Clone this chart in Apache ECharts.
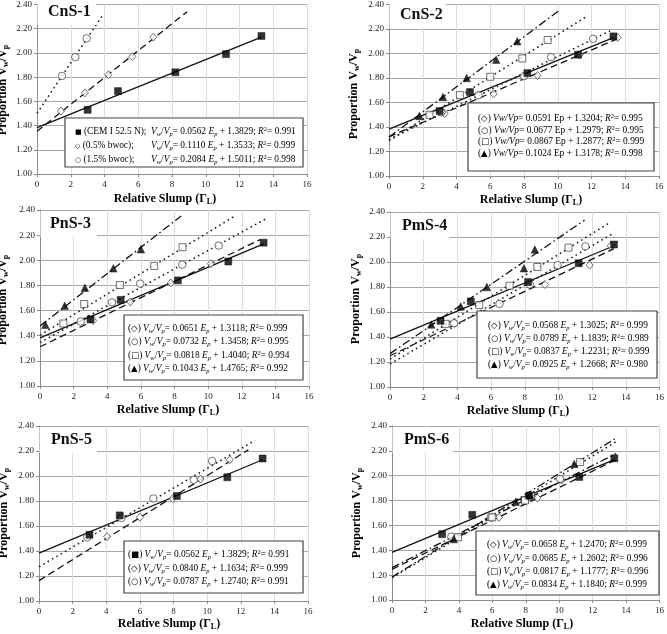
<!DOCTYPE html>
<html><head><meta charset="utf-8">
<script src="https://cdn.jsdelivr.net/npm/echarts@6/dist/echarts.min.js"></script>
<style>html,body{margin:0;padding:0;background:#fff}#c{width:667px;height:634px}</style>
</head><body><div id="c"></div>
<script>
// ---------------- DATA ----------------
const panelTitles = ['CnS-1', 'CnS-2', 'PnS-3', 'PmS-4', 'PnS-5', 'PmS-6'];

// Reference mix (CEM I 52.5 N), shown on every panel
const cemPts = [[3.0, 1.53], [4.8, 1.685], [8.2, 1.84], [11.2, 1.99], [13.3, 2.14]];
const cemFit = [[0, 1.383], [13.3, 2.130]];

// CnS-1
const cns1Diam = [[1.42, 1.52], [2.84, 1.67], [4.23, 1.82], [5.65, 1.97], [6.89, 2.13]];
const cns1Circ = [[1.48, 1.81], [2.27, 1.965], [2.94, 2.12]];
const cns1DiamFit = [[0, 1.353], [8.9, 2.341]];
const cns1CircFit = [[0, 1.501], [3.9, 2.314]];

// CnS-2
const cns2Diam = [[3.3, 1.51], [6.2, 1.67], [8.8, 1.82], [11.3, 1.99], [13.55, 2.13]];
const cns2Circ = [[3.1, 1.52], [5.3, 1.66], [8.0, 1.815], [9.6, 1.97], [12.1, 2.12]];
const cns2Sq = [[2.4, 1.50], [4.2, 1.66], [6.0, 1.81], [7.9, 1.96], [9.4, 2.11]];
const cns2Tri = [[1.8, 1.49], [3.2, 1.645], [4.6, 1.80], [6.35, 1.95], [7.6, 2.10]];
const cns2DiamFit = [[0, 1.320], [13.6, 2.124]];
const cns2CircFit = [[0, 1.298], [13.1, 2.185]];
const cns2SqFit = [[0, 1.288], [11.75, 2.306]];
const cns2TriFit = [[0, 1.318], [10.05, 2.347]];

// PnS-3
const pns3Diam = [[3.17, 1.52], [5.37, 1.668], [7.78, 1.82], [10.16, 1.973]];
const pns3Circ = [[2.42, 1.513], [4.28, 1.665], [5.96, 1.814], [8.46, 1.965], [10.63, 2.117]];
const pns3Sq = [[1.39, 1.497], [2.63, 1.652], [4.75, 1.803], [6.79, 1.955], [8.48, 2.104]];
const pns3Tri = [[0.32, 1.487], [1.47, 1.638], [2.67, 1.782], [4.36, 1.936], [6.0, 2.088]];
const pns3DiamFit = [[0, 1.312], [13.1, 2.165]];
const pns3CircFit = [[0, 1.346], [13.4, 2.327]];
const pns3SqFit = [[0, 1.404], [11.5, 2.345]];
const pns3TriFit = [[0, 1.477], [8.4, 2.353]];

// PmS-4
const pms4Diam = [[3.85, 1.51], [9.2, 1.82], [11.85, 1.975], [13.1, 2.13]];
const pms4Circ = [[3.8, 1.51], [6.5, 1.665], [8.3, 1.82], [9.95, 1.975], [11.6, 2.125]];
const pms4Sq = [[3.3, 1.505], [5.3, 1.655], [7.1, 1.81], [8.75, 1.96], [10.6, 2.115]];
const pms4Tri = [[2.45, 1.50], [4.2, 1.645], [5.75, 1.80], [7.95, 1.95], [8.6, 2.10]];
const pms4DiamFit = [[0, 1.25], [13.3, 2.107]];
const pms4CircFit = [[0, 1.184], [13.3, 2.233]];
const pms4SqFit = [[0, 1.223], [13.0, 2.311]];
const pms4TriFit = [[0, 1.267], [11.55, 2.335]];

// PnS-5
const pns5Diam = [[4.05, 1.515], [6.0, 1.67], [7.95, 1.82], [9.6, 1.975], [11.35, 2.13]];
const pns5Circ = [[2.87, 1.51], [4.9, 1.665], [6.8, 1.82], [9.2, 1.97], [10.3, 2.12]];
const pns5DiamFit = [[0, 1.163], [12.45, 2.209]];
const pns5CircFit = [[0, 1.274], [12.85, 2.285]];

// PmS-6
const pms6Diam = [[3.8, 1.50], [6.4, 1.665], [8.7, 1.82], [10.15, 1.965]];
const pms6Circ = [[3.55, 1.51], [5.9, 1.665], [7.95, 1.805], [10.05, 1.975]];
const pms6Sq = [[3.95, 1.505], [6.0, 1.665], [7.95, 1.80], [8.3, 1.835], [11.25, 2.11]];
const pms6Tri = [[3.7, 1.49], [7.4, 1.79], [8.25, 1.845], [10.9, 2.095]];
const pms6DiamFit = [[0, 1.247], [13.4, 2.129]];
const pms6CircFit = [[0, 1.260], [13.4, 2.178]];
const pms6SqFit = [[0, 1.178], [13.4, 2.273]];
const pms6TriFit = [[0, 1.184], [13.4, 2.302]];

// ---------------- STYLE / LAYOUT ----------------
const F = "'Liberation Serif', 'Times New Roman', serif";
const G = "'DejaVu Sans', sans-serif";

const layout = [
  {l: 37, t: -1, w: 270, h: 175, tx: 48, ty: 12, tr: 96, xt: [165, 199], yt: [3, 90], lb: [65, 118, 238, 49]},
  {l: 389, t: 1, w: 270, h: 175, tx: 400, ty: 15, tr: 446, xt: [531, 200], yt: [354, 94], lb: [468, 103, 186, 68]},
  {l: 40, t: 210, w: 269, h: 176, tx: 50, ty: 224, tr: 97, xt: [168, 410], yt: [3, 300], lb: [124, 315, 179, 65]},
  {l: 390, t: 212, w: 270, h: 175, tx: 402, ty: 226, tr: 449, xt: [518, 411], yt: [356, 299], lb: [477, 311, 180, 67]},
  {l: 39, t: 426, w: 269, h: 175, tx: 51, ty: 440, tr: 97, xt: [169, 624], yt: [4, 513], lb: [124, 541, 179, 52]},
  {l: 392, t: 426, w: 269, h: 174, tx: 404, ty: 440, tr: 453, xt: [522, 624], yt: [357, 513], lb: [476, 531, 183, 64]}
];

const markers = {
  sq:  {symbol: 'rect', symbolSize: 7, itemStyle: {color: '#000', borderColor: '#000', borderWidth: 0.5}},
  di:  {symbol: 'diamond', symbolSize: [7, 8], itemStyle: {color: '#fff', borderColor: '#222', borderWidth: 0.8}},
  ci:  {symbol: 'circle', symbolSize: 7.5, itemStyle: {color: '#fff', borderColor: '#222', borderWidth: 0.8}},
  osq: {symbol: 'rect', symbolSize: 7, itemStyle: {color: '#fff', borderColor: '#222', borderWidth: 0.8}},
  tri: {symbol: 'triangle', symbolSize: 7.5, itemStyle: {color: '#000', borderColor: '#000', borderWidth: 0.5}}
};
const lineStyles = {
  solid:   {type: 'solid', width: 1.3, color: '#111'},
  dash:    {type: [7, 4], width: 1.3, color: '#111'},
  dot:     {type: [1.6, 3.4], width: 1.6, color: '#222'},
  dashdot: {type: [8, 3, 1.6, 3], width: 1.3, color: '#111'}
};

const panels = [
  {pts: [[cns1Diam, 'di'], [cns1Circ, 'ci'], [cemPts, 'sq']],
   fits: [[cemFit, 'solid'], [cns1DiamFit, 'dash'], [cns1CircFit, 'dot']]},
  {pts: [[cns2Diam, 'di'], [cns2Circ, 'ci'], [cns2Sq, 'osq'], [cns2Tri, 'tri'], [cemPts, 'sq']],
   fits: [[cemFit, 'solid'], [cns2DiamFit, 'dash'], [cns2CircFit, 'dot'], [cns2SqFit, 'dot'], [cns2TriFit, 'dashdot']]},
  {pts: [[pns3Diam, 'di'], [pns3Circ, 'ci'], [pns3Sq, 'osq'], [pns3Tri, 'tri'], [cemPts, 'sq']],
   fits: [[cemFit, 'solid'], [pns3DiamFit, 'dash'], [pns3CircFit, 'dot'], [pns3SqFit, 'dot'], [pns3TriFit, 'dashdot']]},
  {pts: [[pms4Diam, 'di'], [pms4Circ, 'ci'], [pms4Sq, 'osq'], [pms4Tri, 'tri'], [cemPts, 'sq']],
   fits: [[cemFit, 'solid'], [pms4DiamFit, 'dash'], [pms4CircFit, 'dot'], [pms4SqFit, 'dot'], [pms4TriFit, 'dashdot']]},
  {pts: [[pns5Diam, 'di'], [pns5Circ, 'ci'], [cemPts, 'sq']],
   fits: [[cemFit, 'solid'], [pns5DiamFit, 'dash'], [pns5CircFit, 'dot']]},
  {pts: [[pms6Diam, 'di'], [pms6Circ, 'ci'], [pms6Sq, 'osq'], [pms6Tri, 'tri'], [cemPts, 'sq']],
   fits: [[cemFit, 'solid'], [pms6DiamFit, 'dash'], [pms6CircFit, 'dashdot'], [pms6SqFit, 'dot'], [pms6TriFit, 'dashdot']]}
];

// legend texts
const eqA = (a, b, r) => `{i|V}{sub|w}{n|/}{i|V}{sub|p}{n|= ${a} }{i|E}{sub|p}{n| + ${b}; }{i|R}{sup|2}{n|= ${r}}`;
const eqB = (a, b, r) => `{i|Vw/Vp}{n|= ${a} Ep + ${b}; }{i|R}{sup|2}{n|= ${r}}`;
const par = s => `{n|(}{s|${s}}{n|) }`;

const legends = [
  {x: 75, x2: 151, ys: [132, 146, 160], rows: [
    [`{ss|■}{n| (CEM I 52.5 N);}`, eqA('0.0562', '1.3829', '0.991')],
    [`{ss|◇}{n| (0.5% bwoc);}`, eqA('0.1110', '1.3533', '0.999')],
    [`{ss|○}{n| (1.5% bwoc);}`, eqA('0.2084', '1.5011', '0.998')]]},
  {x: 478, ys: [118.3, 130.3, 142, 154], rows: [
    [par('◇') + eqB('0.0591', '1.3204', '0.995')],
    [par('○') + eqB('0.0677', '1.2979', '0.995')],
    [par('□') + eqB('0.0867', '1.2877', '0.999')],
    [par('▲') + eqB('0.1024', '1.3178', '0.998')]]},
  {x: 128, ys: [328.3, 341.5, 355.5, 369], rows: [
    [par('◇') + eqA('0.0651', '1.3118', '0.999')],
    [par('○') + eqA('0.0732', '1.3458', '0.995')],
    [par('□') + eqA('0.0818', '1.4040', '0.994')],
    [par('▲') + eqA('0.1043', '1.4765', '0.992')]]},
  {x: 488, ys: [325.7, 338.5, 351.7, 365], rows: [
    [par('◇') + eqA('0.0568', '1.3025', '0.999')],
    [par('○') + eqA('0.0789', '1.1839', '0.989')],
    [par('□') + eqA('0.0837', '1.2231', '0.999')],
    [par('▲') + eqA('0.0925', '1.2668', '0.980')]]},
  {x: 128, ys: [555, 568.5, 582], rows: [
    [par('■') + eqA('0.0562', '1.3829', '0.991')],
    [par('◇') + eqA('0.0840', '1.1634', '0.999')],
    [par('○') + eqA('0.0787', '1.2740', '0.991')]]},
  {x: 487, ys: [545, 558.3, 571.6, 585], rows: [
    [par('◇') + eqA('0.0658', '1.2470', '0.999')],
    [par('○') + eqA('0.0685', '1.2602', '0.996')],
    [par('□') + eqA('0.0817', '1.1777', '0.996')],
    [par('▲') + eqA('0.0834', '1.1840', '0.999')]]}
];

const FS = 9.4;
const legRich = {
  n: {fontFamily: F, fontSize: FS, color: '#111', lineHeight: 12},
  i: {fontFamily: F, fontSize: FS, fontStyle: 'italic', color: '#111', lineHeight: 12},
  sub: {fontFamily: F, fontSize: 6.5, fontStyle: 'italic', color: '#111', lineHeight: 4, verticalAlign: 'bottom'},
  sup: {fontFamily: F, fontSize: 6.5, color: '#111', lineHeight: 6, verticalAlign: 'top'},
  s: {fontFamily: G, fontSize: 8.5, color: '#111', lineHeight: 12},
  ss: {fontFamily: G, fontSize: 7, color: '#111', lineHeight: 12}
};
const titleRich = {
  b: {fontFamily: F, fontSize: 12, fontWeight: 'bold', color: '#111', lineHeight: 14},
  bs: {fontFamily: F, fontSize: 8, fontWeight: 'bold', color: '#111', lineHeight: 4, verticalAlign: 'bottom'}
};

// ---------------- BUILD ----------------
const grid = [], xAxis = [], yAxis = [], series = [], graphic = [];
layout.forEach((g, i) => {
  grid.push({left: g.l, top: g.t, width: g.w, height: g.h});
  xAxis.push({type: 'value', gridIndex: i, min: 0, max: 16, interval: 2,
    axisLine: {show: true, lineStyle: {color: '#8c8c8c'}},
    axisTick: {show: true, length: 3, lineStyle: {color: '#8c8c8c'}},
    axisLabel: {fontFamily: F, fontSize: 9, color: '#222', margin: 6},
    splitLine: {show: true, lineStyle: {color: '#dcdcdc', width: 1}}});
  yAxis.push({type: 'value', gridIndex: i, min: 1, max: 2.4, interval: 0.2,
    axisLine: {show: true, onZero: false, lineStyle: {color: '#8c8c8c'}},
    axisTick: {show: true, length: 3, lineStyle: {color: '#8c8c8c'}},
    axisLabel: {fontFamily: F, fontSize: 9, color: '#222', margin: 5, formatter: v => v.toFixed(2)},
    splitLine: {show: true, lineStyle: {color: '#a8a8a8', width: 1}}});

  const p = panels[i];
  p.fits.forEach(([d, st]) => series.push({type: 'line', xAxisIndex: i, yAxisIndex: i, data: d,
    showSymbol: false, symbol: 'none', silent: true, z: 2, lineStyle: lineStyles[st], animation: false}));
  p.pts.forEach(([d, m]) => series.push(Object.assign({type: 'scatter', xAxisIndex: i, yAxisIndex: i, data: d,
    silent: true, z: 3, animation: false}, markers[m])));

  // title box
  graphic.push({type: 'rect', z: 50, shape: {x: g.l + 0.5, y: g.ty - 13, width: g.tr - g.l - 0.5, height: 26},
    style: {fill: '#fff'}});
  graphic.push({type: 'text', z: 51, x: g.tx, y: g.ty,
    style: {text: panelTitles[i], font: `bold 16px ${F}`, fill: '#111', textAlign: 'left', textVerticalAlign: 'middle'}});
  // axis titles
  graphic.push({type: 'text', z: 51, x: g.xt[0], y: g.xt[1],
    style: {text: '{b|Relative Slump (Γ}{bs|L}{b|)}', rich: titleRich, font: `bold 12px ${F}`, textAlign: 'center', textVerticalAlign: 'middle'}});
  graphic.push({type: 'text', z: 51, x: g.yt[0], y: g.yt[1], rotation: Math.PI / 2,
    style: {text: '{b|Proportion V}{bs|w}{b|/V}{bs|p}', rich: titleRich, font: `bold 12px ${F}`, textAlign: 'center', textVerticalAlign: 'middle'}});
  // legend box
  const lb = g.lb;
  graphic.push({type: 'rect', z: 60, shape: {x: lb[0], y: lb[1], width: lb[2], height: lb[3]},
    style: {fill: '#fff', stroke: '#444', lineWidth: 1.2}});
  const L = legends[i];
  L.rows.forEach((row, r) => {
    graphic.push({type: 'text', z: 61, x: L.x, y: L.ys[r],
      style: {text: row[0], rich: legRich, font: `${FS}px ${F}`, textAlign: 'left', textVerticalAlign: 'middle'}});
    if (row[1]) graphic.push({type: 'text', z: 61, x: L.x2, y: L.ys[r],
      style: {text: row[1], rich: legRich, font: `${FS}px ${F}`, textAlign: 'left', textVerticalAlign: 'middle'}});
  });
});

const chart = echarts.init(document.getElementById('c'), null, {renderer: 'canvas'});
chart.setOption({animation: false, backgroundColor: '#fff', grid, xAxis, yAxis, series, graphic});
</script></body></html>
